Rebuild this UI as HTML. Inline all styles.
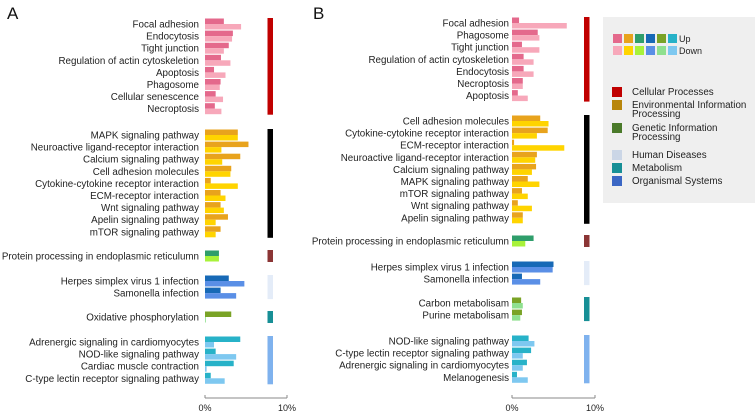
<!DOCTYPE html>
<html><head><meta charset="utf-8"><style>
body{margin:0;background:#fff;}
svg{display:block;font-family:"Liberation Sans",Arial,sans-serif;}
</style></head><body>
<svg id="c" width="755" height="413" viewBox="0 0 755 413" xmlns="http://www.w3.org/2000/svg">
<text x="7" y="19" font-size="17" fill="#111">A</text>
<text x="313" y="19" font-size="17" fill="#111">B</text>
<g>
<rect x="603" y="17" width="152" height="186" fill="#efefef"/>
<g id="lgsq"></g>
<text x="679" y="42" font-size="9" fill="#222">Up</text>
<text x="679" y="54" font-size="9" fill="#222">Down</text>
<g id="lgcat" font-size="9.8" fill="#222"></g>
</g>
</svg>
<script>
const catNamesA=[["Focal adhesion","Endocytosis","Tight junction","Regulation of actin cytoskeletion","Apoptosis","Phagosome","Cellular senescence","Necroptosis"],
["MAPK signaling pathway","Neuroactive ligand-receptor interaction","Calcium signaling pathway","Cell adhesion molecules","Cytokine-cytokine receptor interaction","ECM-receptor interaction","Wnt signaling pathway","Apelin signaling pathway","mTOR signaling pathway"],
["Protein processing in endoplasmic reticulumn"],
["Herpes simplex virus 1 infection","Samonella infection"],
["Oxidative phosphorylation"],
["Adrenergic signaling in cardiomyocytes","NOD-like signaling pathway","Cardiac muscle contraction","C-type lectin receptor signaling pathway"]];
const upA=[[2.3,3.4,2.9,1.95,1.1,1.9,1.3,1.2],[4.0,5.3,4.3,3.2,0.7,1.9,1.9,2.8,1.9],[1.7],[2.9,1.9],[3.2],[4.3,1.3,3.5,0.7]];
const downA=[[4.4,3.3,2.3,3.1,2.5,1.8,2.2,2.0],[4.0,2.0,2.1,3.1,4.0,2.5,2.3,1.3,1.3],[1.7],[4.8,3.8],[0.1],[1.1,3.8,0.2,2.4]];
const catNamesB=[["Focal adhesion","Phagosome","Tight junction","Regulation of actin cytoskeletion","Endocytosis","Necroptosis","Apoptosis"],
["Cell adhesion molecules","Cytokine-cytokine receptor interaction","ECM-receptor interaction","Neuroactive ligand-receptor interaction","Calcium signaling pathway","MAPK signaling pathway","mTOR signaling pathway","Wnt signaling pathway","Apelin signaling pathway"],
["Protein processing in endoplasmic reticulumn"],
["Herpes simplex virus 1 infection","Samonella infection"],
["Carbon metabolisam","Purine metabolisam"],
["NOD-like signaling pathway","C-type lectin receptor signaling pathway","Adrenergic signaling in cardiomyocytes","Melanogenesis"]];
const upB=[[0.85,3.1,1.2,1.4,1.4,1.3,0.7],[3.4,4.3,0.25,3.0,2.9,1.9,1.2,0.7,1.3],[2.6],[5.0,1.2],[1.1,1.2],[2.0,2.3,1.8,0.6]];
const downB=[[6.6,3.3,3.3,2.6,2.6,1.3,1.9],[4.4,3.0,6.3,2.8,2.4,3.3,1.9,2.4,1.3],[1.6],[4.9,3.4],[1.3,1.0],[2.7,1.3,1.3,1.9]];
const xTicks=["0%","10%"];
const upColors=["#e4698c","#e8a31d","#2f9e6b","#1769b6","#7aa326","#27b2c8"];
const downColors=["#f7a8ba","#ffd400","#a8f23a","#5a8fe6","#8fe08f","#7ec8f0"];
const groupBarColors=["#c00000","#000000","#8b3535","#e4ecf8","#178f96","#7fb2ee"];
const legendCats=[["Cellular Processes"],["Environmental Information","Processing"],["Genetic Information","Processing"],["Human Diseases"],["Metabolism"],["Organismal Systems"]];
const legendCatColors=["#c00000","#b8860b","#4a7a2a","#cbd6e6","#178f96","#3a66c4"];

const NS="http://www.w3.org/2000/svg";
const svg=document.getElementById('c');
function mk(tag,attrs,parent){const e=document.createElementNS(NS,tag);for(const k in attrs)e.setAttribute(k,attrs[k]);(parent||svg).appendChild(e);return e;}

function panel(names,ups,downs,x0,pxPer,labelX,catX,starts,pname){
  const xs=v=>x0+v*pxPer;
  const g=mk('g',{});
  
  
  names.forEach((grp,gi)=>{
    const y0=starts[gi];
    const sp=12.1;
    grp.forEach((nm,i)=>{
      const yc=y0+i*sp;
      const t=mk('text',{x:labelX,y:yc+3.5,'font-size':9.8,fill:'#222','text-anchor':'end'},g);
      t.textContent=nm;
      
      
      const r1=mk('rect',{x:x0,y:yc-5.5,width:Math.max(0,xs(ups[gi][i])-x0),height:5.5,fill:upColors[gi]},g);
      
      
      const r2=mk('rect',{x:x0,y:yc,width:Math.max(0,xs(downs[gi][i])-x0),height:5.5,fill:downColors[gi]},g);
      
      
    });
    const cb=mk('rect',{x:catX,y:y0-6,width:5.5,height:(grp.length-1)*sp+12,fill:groupBarColors[gi]},g);
    
    
  });
  const ax=mk('line',{x1:x0,x2:xs(10),y1:398,y2:398,stroke:'#888','stroke-width':1},g);
  
  
  xTicks.forEach((lb,i)=>{
    const xv=xs(i*10);
    const tk=mk('line',{x1:xv,x2:xv,y1:395,y2:398,stroke:'#888'},g);
    
    
    const tl=mk('text',{x:xv,y:411,'font-size':9,fill:'#222','text-anchor':'middle'},g);
    tl.textContent=lb;
    
    
  });
}
panel(catNamesA,upA,downA,205,8.2,199,267.5,[24,135,256,281,317,342],'panel-a');
panel(catNamesB,upB,downB,512,8.3,509,584,[23,121,241,267,303,341],'panel-b');

const lgsq=document.getElementById('lgsq');
upColors.forEach((c,i)=>{
  const a=mk('rect',{x:613+i*11,y:34,width:9,height:9,fill:c},lgsq);
  
  
  const b=mk('rect',{x:613+i*11,y:46,width:9,height:9,fill:downColors[i]},lgsq);
  
  
});
const lgcat=document.getElementById('lgcat');
const lgY=[87,100,123,150,163,176];
legendCats.forEach((lines,i)=>{
  const s=mk('rect',{x:612,y:lgY[i],width:10,height:10,fill:legendCatColors[i]},lgcat);
  
  
  lines.forEach((ln,j)=>{
    const t=mk('text',{x:632,y:lgY[i]+8+j*9},lgcat);
    t.textContent=ln;
    
    
  });
});
</script>
</body></html>
